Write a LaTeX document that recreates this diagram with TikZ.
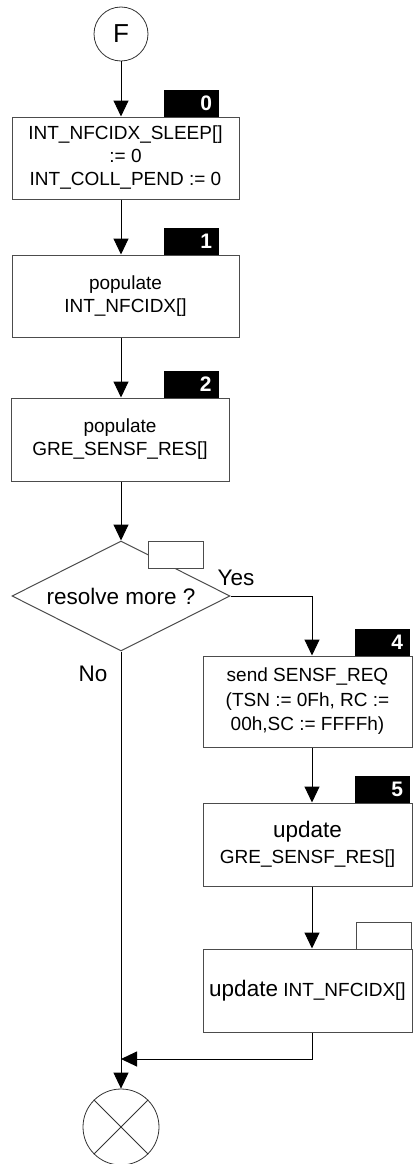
\documentclass[tikz,border=0pt]{standalone}
\usepackage{fontspec}
\setmainfont{Liberation Sans}
\usetikzlibrary{shapes.geometric}
\usetikzlibrary{arrows.meta}

\begin{document}
\begin{tikzpicture}[x=1pt,y=-1pt,
  proc/.style={draw=black!70, line width=1pt, rectangle, align=center, inner sep=0pt, font=\fontsize{19}{23}\selectfont},
  tag/.style={fill=black, rectangle, inner sep=0pt, minimum width=55pt, minimum height=27pt, text width=41pt, align=right, text=white, font=\bfseries\fontsize{21}{21}\selectfont},
  blanktag/.style={draw=black!70, fill=white, line width=1pt, rectangle, inner sep=0pt, minimum width=55pt, minimum height=27pt},
  dec/.style={draw=black!70, fill=white, line width=1pt, diamond, aspect=2, inner sep=0pt, minimum width=218pt, minimum height=110pt, font=\fontsize{22.5}{26}\selectfont},
  conn/.style={draw=black!80, line width=0.8pt, circle, inner sep=0pt},
  big/.style={font=\fontsize{22.5}{26}\selectfont}]
\def\l{16pt}
\def\w{15pt}
\useasboundingbox (0,0) rectangle (413,1164);
\node [conn, minimum size=54pt, font=\fontsize{26}{26}\selectfont, name=F] at (121,34) {F};
\node [proc, minimum width=227pt, minimum height=82pt, name=b0] at (125.5,158) {INT\_NFCIDX\_SLEEP[]\\:= 0\\INT\_COLL\_PEND := 0};
\node [proc, minimum width=227pt, minimum height=82pt, name=b1] at (125.5,296) {populate\\INT\_NFCIDX[]};
\node [proc, minimum width=218pt, minimum height=83pt, name=b2] at (120,439.5) {populate\\GRE\_SENSF\_RES[]};
\node [dec, name=d] at (121,596) {resolve more ?};
\node [proc, minimum width=209pt, minimum height=91pt, font=\fontsize{19}{24.5}\selectfont, name=b4] at (307.5,701.5) {send SENSF\_REQ\\(TSN := 0Fh, RC :=\\00h,SC := FFFFh)};
\node [proc, minimum width=209pt, minimum height=83pt, font=\fontsize{19}{26}\selectfont, name=b5] at (307.5,844.5) {{\fontsize{22.5}{26}\selectfont update}\\GRE\_SENSF\_RES[]};
\node [proc, minimum width=209pt, minimum height=83pt, name=b6] at (307.5,990.5) {{\fontsize{22.5}{26}\selectfont update} INT\_NFCIDX[]};
\node [conn, minimum size=76pt, name=E] at (121,1127) {};
\draw [black!80, line width=0.8pt] (E.45) -- (E.225);
\draw [black!80, line width=0.8pt] (E.135) -- (E.315);
% step numbers
\node [tag, name=t0] at (191.5,103) {0};
\node [tag, name=t1] at (191.5,241) {1};
\node [tag, name=t2] at (191,384.5) {2};
\node [blanktag, name=td] at (175.5,554.5) {};
\node [tag, name=t4] at (382.5,642) {4};
\node [tag, name=t5] at (382.5,789) {5};
\node [blanktag, name=t6] at (383.5,935.5) {};
\node [big, name=yes] at (236,578) {Yes};
\node [big, name=no] at (93,674) {No};
\coordinate (rc) at (312,0);
\coordinate (j) at (121,1059);
\draw [line width=1pt, -{Triangle[length=\l, width=\w]}](F) -- (F |- b0.north);
\draw [line width=1pt, -{Triangle[length=\l, width=\w]}](b0.south -| F) -- (b1.north -| F);
\draw [line width=1pt, -{Triangle[length=\l, width=\w]}](b1.south -| F) -- (b2.north -| F);
\draw [line width=1pt, -{Triangle[length=\l, width=\w]}](b2.south -| F) -- (d.north);
\draw [line width=1pt, -{Triangle[length=\l, width=\w]}](d.east) -| (b4.north -| rc);
\draw [line width=1pt, -{Triangle[length=\l, width=\w]}](b4.south -| rc) -- (b5.north -| rc);
\draw [line width=1pt, -{Triangle[length=\l, width=\w]}](b5.south -| rc) -- (b6.north -| rc);
\draw [line width=1pt, -{Triangle[length=\l, width=\w]}](b6.south -| rc) |- (j);
\draw [line width=1pt, -{Triangle[length=\l, width=\w]}](d.south) -- (E);
\end{tikzpicture}
\end{document}
